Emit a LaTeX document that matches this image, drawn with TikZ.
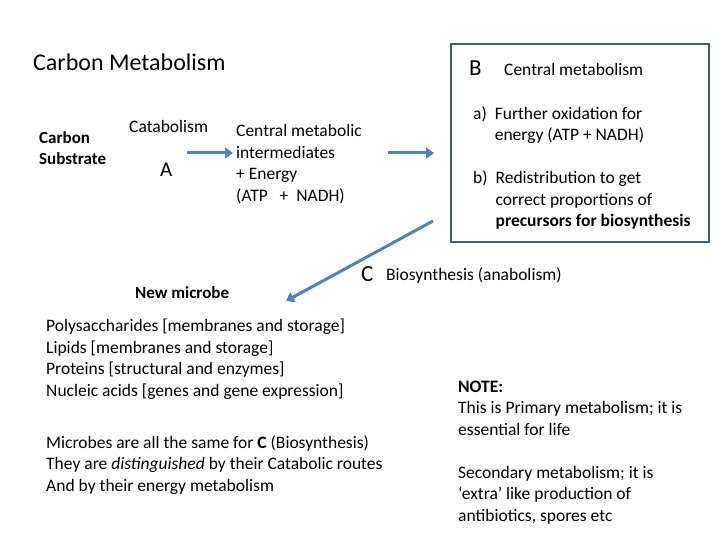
\documentclass[tikz,border=0pt]{standalone}
\usepackage{fontspec}
\setmainfont{Carlito}
\usetikzlibrary{arrows.meta}
\begin{document}
\begin{tikzpicture}[x=1pt,y=-1pt,
  t/.style={anchor=west,inner sep=0pt,align=left,font=\fontsize{17.5}{21.5}\selectfont},
  big/.style={anchor=west,inner sep=0pt,font=\fontsize{23}{26}\selectfont},
  arr/.style={draw={rgb,255:red,79;green,129;blue,189},line width=3pt,-{Triangle[length=8pt,width=11pt]}}]
\useasboundingbox (0,0) rectangle (720,540);
\node[big,font=\fontsize{24}{26}\selectfont] (title) at (33,62) {Carbon Metabolism};
\node[t,font=\bfseries\fontsize{17}{21.5}\selectfont] (sub) at (39,148) {Carbon\\Substrate};
\node[t] (cat) at (129,126) {Catabolism};
\node[big,font=\fontsize{21}{24}\selectfont] (A) at (160,170) {A};
\node[t] (cmi) at (236,164) {Central metabolic\\intermediates\\+ Energy\\(ATP \ \ + \ NADH)};
\draw[line width=1.5pt,draw={rgb,255:red,64;green,90;blue,120}] (451,44) rectangle (709,242);
\node[big] (B) at (469,68) {B};
\node[t] (cm) at (504,69) {Central metabolism};
\node[t] (a) at (473,125) {a)\ \ Further oxidation for\\\phantom{a)\ \ }energy (ATP + NADH)};
\node[t] (b) at (473,200) {b)\ \ Redistribution to get\\\phantom{b)\ \ }correct proportions of\\\phantom{b)\ \ }\textbf{precursors for biosynthesis}};
\node[big] (C) at (361,274) {C};
\node[t] (bio) at (386,276) {Biosynthesis (anabolism)};
\node[t,font=\bfseries\fontsize{17}{21.5}\selectfont] (nm) at (135,293) {New microbe};
\node[t] (list) at (46,359) {Polysaccharides [membranes and storage]\\Lipids [membranes and storage]\\Proteins [structural and enzymes]\\Nucleic acids [genes and gene expression]};
\node[t] (same) at (46,465) {Microbes are all the same for \textbf{C} (Biosynthesis)\\They are \textit{distinguished} by their Catabolic routes\\And by their energy metabolism};
\node[t] (note) at (458,408) {\textbf{NOTE:}\\This is Primary metabolism; it is\\essential for life};
\node[t] (sec) at (458,495) {Secondary metabolism; it is\\‘extra’ like production of\\antibiotics, spores etc};
\coordinate (a1s) at (187,153); \coordinate (a1e) at (233,153);
\coordinate (a2s) at (388,153); \coordinate (a2e) at (434,153);
\coordinate (a3s) at (433,221); \coordinate (a3e) at (286,301);
\draw[arr] (a1s) -- (a1e);
\draw[arr] (a2s) -- (a2e);
\draw[arr] (a3s) -- (a3e);
\end{tikzpicture}
\end{document}
